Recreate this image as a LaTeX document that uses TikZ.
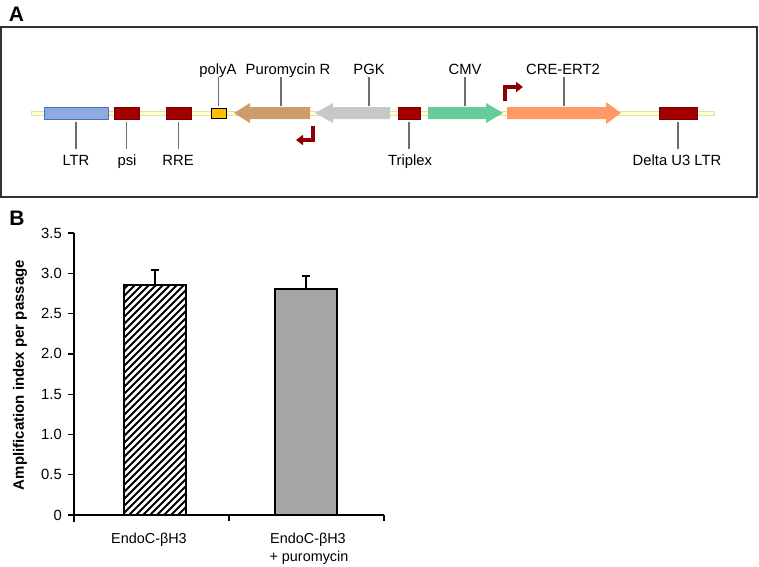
\documentclass[tikz,border=0pt]{standalone}
\usepackage{fontspec}
\setmainfont{Liberation Sans}
\usetikzlibrary{arrows.meta}
\definecolor{ltrfill}{RGB}{143,170,220}
\definecolor{ltrdraw}{RGB}{68,114,196}
\definecolor{dred}{RGB}{165,0,0}
\definecolor{dreddraw}{RGB}{120,0,0}
\definecolor{polyafill}{RGB}{255,192,0}
\definecolor{purofill}{RGB}{206,156,108}
\definecolor{pgkfill}{RGB}{200,200,200}
\definecolor{cmvfill}{RGB}{102,204,153}
\definecolor{crefill}{RGB}{255,153,102}
\definecolor{bbfill}{RGB}{255,255,204}
\definecolor{bbdraw}{RGB}{225,225,175}
\definecolor{promcol}{RGB}{139,0,0}
\definecolor{leadcol}{RGB}{110,110,110}
\definecolor{bargray}{RGB}{166,166,166}
\tikzset{
  lbl/.style={font=\fontsize{14.8}{17}\selectfont, inner sep=0pt, text height=10.6pt, text depth=2.5pt, anchor=base},
  tlbl/.style={font=\fontsize{14.8}{17}\selectfont, inner sep=0pt, anchor=east},
  xlbl/.style={font=\fontsize{14.4}{17}\selectfont, inner sep=0pt, anchor=base},
  leader/.style={draw=leadcol, line width=1.2pt},
  feat/.style={rectangle, inner sep=0pt, minimum height=12pt, line width=0.8pt},
  redbox/.style={feat, fill=dred, draw=dreddraw},
  prom/.style={draw=promcol, line width=3.2pt, line join=miter, -{Triangle[length=7pt,width=10pt]}},
  axis/.style={line width=1.3pt, draw=black},
  panel/.style={font=\fontsize{21}{23}\selectfont\bfseries, inner sep=0pt, anchor=base},
}
\begin{document}
\begin{tikzpicture}[x=1pt,y=-1pt]
\useasboundingbox (0,0) rectangle (759,566);
% ---------- Panel A ----------
\node[panel] (pA) at (16.5,21) {A};
\draw[line width=1.4pt, draw=black!80] (1,27) rectangle (757,197);
% backbone
\draw[fill=bbfill, draw=bbdraw, line width=0.6pt] (31,111) rectangle (714,115);
% boxes
\node[feat, fill=ltrfill, draw=ltrdraw, minimum width=64pt] (ltr) at (76,113) {};
\node[redbox, minimum width=25pt] (psi) at (126.5,113) {};
\node[redbox, minimum width=25pt] (rre) at (178.5,113) {};
\node[feat, fill=polyafill, draw=black, minimum width=15pt, minimum height=10pt] (pa) at (218.5,113) {};
\node[redbox, minimum width=22pt] (tri) at (409,113) {};
\node[redbox, minimum width=38pt] (dltr) at (678,113) {};
% arrows
\fill[purofill] (234,113) -- (250,103) -- (250,107) -- (310,107) -- (310,119) -- (250,119) -- (250,123) -- cycle;
\fill[pgkfill] (315,113) -- (333,103) -- (333,107) -- (390,107) -- (390,119) -- (333,119) -- (333,123) -- cycle;
\fill[cmvfill] (428,107) -- (486,107) -- (486,103) -- (503,113) -- (486,123) -- (486,119) -- (428,119) -- cycle;
\fill[crefill] (507,107) -- (606,107) -- (606,102) -- (621,113) -- (606,124) -- (606,119) -- (507,119) -- cycle;
\coordinate (puro) at (281,106);
\coordinate (pgk) at (369,106);
\coordinate (cmv) at (465,106);
\coordinate (cre) at (564,106);
% promoter arrows
\coordinate (p1a) at (313,126);
\coordinate (p1b) at (313,140);
\coordinate (p1c) at (296,140);
\draw[prom] (p1a) -- (p1b) -- (p1c);
\coordinate (p2a) at (505,101);
\coordinate (p2b) at (505,87);
\coordinate (p2c) at (523,87);
\draw[prom] (p2a) -- (p2b) -- (p2c);
% labels above
\node[lbl] (lpa) at (218,74.5) {polyA};
\node[lbl] (lpuro) at (288,74.5) {Puromycin R};
\node[lbl] (lpgk) at (369,74.5) {PGK};
\node[lbl] (lcmv) at (465,74.5) {CMV};
\node[lbl] (lcre) at (563,74.5) {CRE-ERT2};
\draw[leader] ([yshift=2pt]pa.north) -- (pa.north |- lpa.south);
\draw[leader] (puro) -- (puro |- lpuro.south);
\draw[leader] (pgk) -- (pgk |- lpgk.south);
\draw[leader] (cmv) -- (cmv |- lcmv.south);
\draw[leader] (cre) -- (cre |- lcre.south);
% labels below
\node[lbl] (lltr) at (76,165.5) {LTR};
\node[lbl] (lpsi) at (127,165.5) {psi};
\node[lbl] (lrre) at (178,165.5) {RRE};
\node[lbl] (ltri) at (410,165.5) {Triplex};
\node[lbl] (ldltr) at (677,165.5) {Delta U3 LTR};
\foreach \b/\l in {ltr/lltr, psi/lpsi, rre/lrre, tri/ltri, dltr/ldltr}{
  \draw[leader] ([yshift=-2.5pt]\b.south) -- ([yshift=6pt]\b.south |- \l.north);
}
% ---------- Panel B ----------
\node[panel] (pB) at (17,225) {B};
% hatched bar
\begin{scope}
  \clip (124,515) rectangle (186,285);
  \foreach \k in {-240,-233,...,70}{
    \draw[line width=1.9pt] (124+\k,515) -- (124+\k+240,275);
  }
\end{scope}
\draw[line width=2pt] (124,515) rectangle (186,285);
\draw[line width=1.3pt] (155,285) -- (155,270);
\draw[line width=1.3pt] (151,270) -- (159,270);
% gray bar
\draw[line width=2pt, fill=bargray] (275,515) rectangle (337,289);
\draw[line width=1.3pt] (306,289) -- (306,276);
\draw[line width=1.3pt] (302,276) -- (310,276);
% axes
\draw[axis] (74,233) -- (74,522);
\draw[axis] (74,515) -- (384,515);
\draw[axis] (229,515) -- (229,521);
\draw[axis] (384,515) -- (384,521);
\foreach \v/\t in {0/0,0.5/0.5,1/1.0,1.5/1.5,2/2.0,2.5/2.5,3/3.0,3.5/3.5}{
  \draw[axis] (68,515-\v*80.57) -- (74,515-\v*80.57);
  \node[tlbl] at (62,515-\v*80.57) {\t};
}
\node[font=\fontsize{15}{17}\selectfont\bfseries, rotate=90, inner sep=0pt] (ylab) at (20,375) {Amplification index per passage};
\node[xlbl] (x1) at (149,543) {EndoC-βH3};
\node[xlbl] (x2) at (308,543) {EndoC-βH3};
\node[xlbl] (x3) at (309,561) {+ puromycin};
\end{tikzpicture}
\end{document}
